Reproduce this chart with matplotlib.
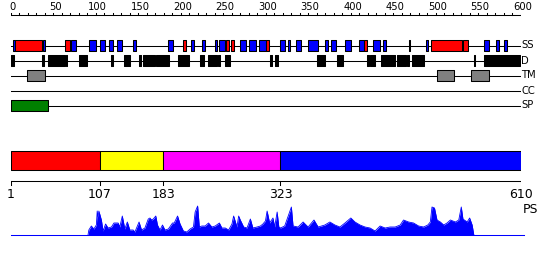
import numpy as np
import matplotlib
matplotlib.use("Agg")
import matplotlib.pyplot as plt

# ---- data ----
# secondary structure: helix (blue) and strand (red) segments, ruler units 0-600
helix_start = [2, 38, 71, 92, 105, 115, 125, 144, 185, 212, 225, 240, 245, 270, 280, 292,
               317, 326, 335, 350, 370, 377, 393, 410, 426, 438, 468, 488, 557, 571, 580]
helix_end = [5, 40, 77, 100, 111, 120, 131, 147, 191, 215, 228, 243, 252, 277, 288, 300,
             323, 329, 341, 361, 373, 383, 400, 415, 434, 442, 470, 491, 563, 574, 584]
strand_start = [5, 64, 202, 253, 259, 300, 415, 494, 532]
strand_end = [36, 69, 206, 257, 263, 304, 419, 531, 538]

# disorder segments
dis_start = [0, 36.5, 44, 65, 80, 118, 133, 151, 155, 171, 197, 222.5, 232, 244, 252,
             305, 311, 360, 384, 419, 423, 436, 454, 466, 472, 545, 557]
dis_end = [3.5, 38.5, 63, 66, 89, 120, 140, 153, 169, 186, 209.5, 227, 242.5, 246, 258,
           307, 314, 370, 391, 421, 428.5, 452, 465, 468, 486, 546.6, 599]

# transmembrane, coiled coil, signal peptide
tm_start = [19, 501, 542]
tm_end = [40, 522, 563]
cc_start = []
cc_end = []
sp_start = [0]
sp_end = [43]

# domain bar (residues 1-610)
dom_start = [1, 107, 183, 323]
dom_end = [107, 183, 323, 610]
dom_colors = ["#ff0000", "#ffff00", "#ff00ff", "#0000ff"]
dom_ticks = [1, 107, 183, 323, 610]

# PS profile (residue, score)
ps_pos = [93, 94, 97, 100, 103, 104, 105, 106, 109, 111, 114, 117, 121, 124, 129, 131, 134,
          137, 140, 143, 147, 149, 154, 157, 161, 165, 167, 169, 171, 174, 176, 179, 182,
          185, 189, 194, 196, 200, 203, 207, 211, 215, 219, 221, 224, 226, 229, 233, 237,
          241, 245, 250, 253, 257, 261, 265, 267, 271, 273, 275, 279, 283, 287, 290, 295,
          299, 302, 305, 307, 310, 314, 316, 319, 321, 323, 328, 336, 338, 344, 350, 356,
          363, 368, 376, 382, 388, 394, 400, 407, 412, 418, 424, 430, 436, 442, 448, 454,
          460, 466, 470, 476, 482, 488, 494, 499, 502, 504, 507, 510, 514, 518, 522, 526,
          532, 536, 539, 541, 546, 549, 552, 554]
ps_val = [0, 5, 9, 6, 10, 24, 18, 24, 15, 4, 11, 7, 8, 12, 12, 8, 19,
          6, 13, 5, 5, 3, 13, 5, 7, 16, 17, 15, 16, 19, 10, 5, 10,
          5, 6, 12, 12, 19, 11, 4, 3, 6, 8, 23, 29, 8, 9, 9, 12,
          8, 9, 12, 7, 7, 5, 11, 19, 8, 19, 15, 8, 7, 16, 7, 8,
          9, 11, 14, 24, 12, 17, 8, 23, 8, 7, 9, 28, 9, 8, 13, 8,
          15, 8, 10, 13, 10, 8, 12, 17, 13, 10, 8, 7, 4, 9, 7, 8,
          8, 10, 15, 13, 12, 9, 8, 10, 13, 28, 27, 15, 13, 10, 12, 15,
          13, 15, 28, 16, 13, 17, 10, 0]

W, H = 550, 260
fig = plt.figure(figsize=(W / 100, H / 100), dpi=100)
lw = 0.75

# ---- top panel: ruler + feature tracks ----
ax = fig.add_axes([11 / W, 1 - 120 / H, 509.7 / W, 120 / H])
ax.set_xlim(0, 600)
ax.set_ylim(120, 0)
ax.axis("off")

ax.plot([0, 600], [15, 15], color="black", lw=lw, solid_capstyle="butt")
for t in range(0, 601, 10):
    ax.plot([t, t], [15, 12.5 if t % 50 == 0 else 13], color="black", lw=lw)
    if t % 50 == 0:
        ax.text(t + 2, 6.5, str(t), ha="center", va="center", fontsize=7.2)


def track(y, starts, ends, color, label):
    ax.plot([0, 600], [y, y], color="black", lw=lw, zorder=1)
    if starts:
        bars = [(s, e - s) for s, e in zip(starts, ends)]
        ax.broken_barh(bars, (y - 5.2, 10.4), facecolors=color,
                       edgecolors="black", linewidth=lw, zorder=2)
    ax.text(600.8, y, label, ha="left", va="center", fontsize=7.2, clip_on=False)


track(45.5, [], [], "none", "SS")
ax.broken_barh([(s, e - s) for s, e in zip(helix_start, helix_end)], (40.3, 10.4),
               facecolors="#0000ff", edgecolors="black", linewidth=lw, zorder=2)
ax.broken_barh([(s, e - s) for s, e in zip(strand_start, strand_end)], (40.3, 10.4),
               facecolors="#ff0000", edgecolors="black", linewidth=lw, zorder=3)
track(60.5, dis_start, dis_end, "black", "D")
track(75.5, tm_start, tm_end, "#808080", "TM")
track(90.5, cc_start, cc_end, "#808080", "CC")
track(105.5, sp_start, sp_end, "#008000", "SP")

# ---- bottom panel: domain bar + ruler ----
bx = fig.add_axes([11 / W, 0, 509.7 / W, 140 / H])
bx.set_xlim(1, 610)
bx.set_ylim(260, 120)
bx.axis("off")

bx.broken_barh([(s, e - s) for s, e in zip(dom_start, dom_end)], (150.7, 19.3),
               facecolors=dom_colors, edgecolors="black", linewidth=lw)
bx.plot([1, 610], [180.7, 180.7], color="black", lw=lw)
for t in dom_ticks:
    bx.plot([t, t], [180.7, 185], color="black", lw=lw)
    bx.text(t, 188, str(t), ha="center", va="top", fontsize=9)
bx.text(612, 203, "PS", ha="left", va="top", fontsize=9, clip_on=False)

# ---- PS profile ----
px = fig.add_axes([11 / W, (260 - 236) / H, 509.7 / W, 36 / H])
px.set_xlim(1, 610)
px.set_ylim(-1, 35)
px.axis("off")
px.fill_between(ps_pos, 0, ps_val, color="#0000ff", lw=0)
px.plot(ps_pos, ps_val, color="#0000ff", lw=0.6)
px.plot([1, 614], [0, 0], color="#0000ff", lw=lw, clip_on=False)

fig.savefig("out.png", dpi=100)
